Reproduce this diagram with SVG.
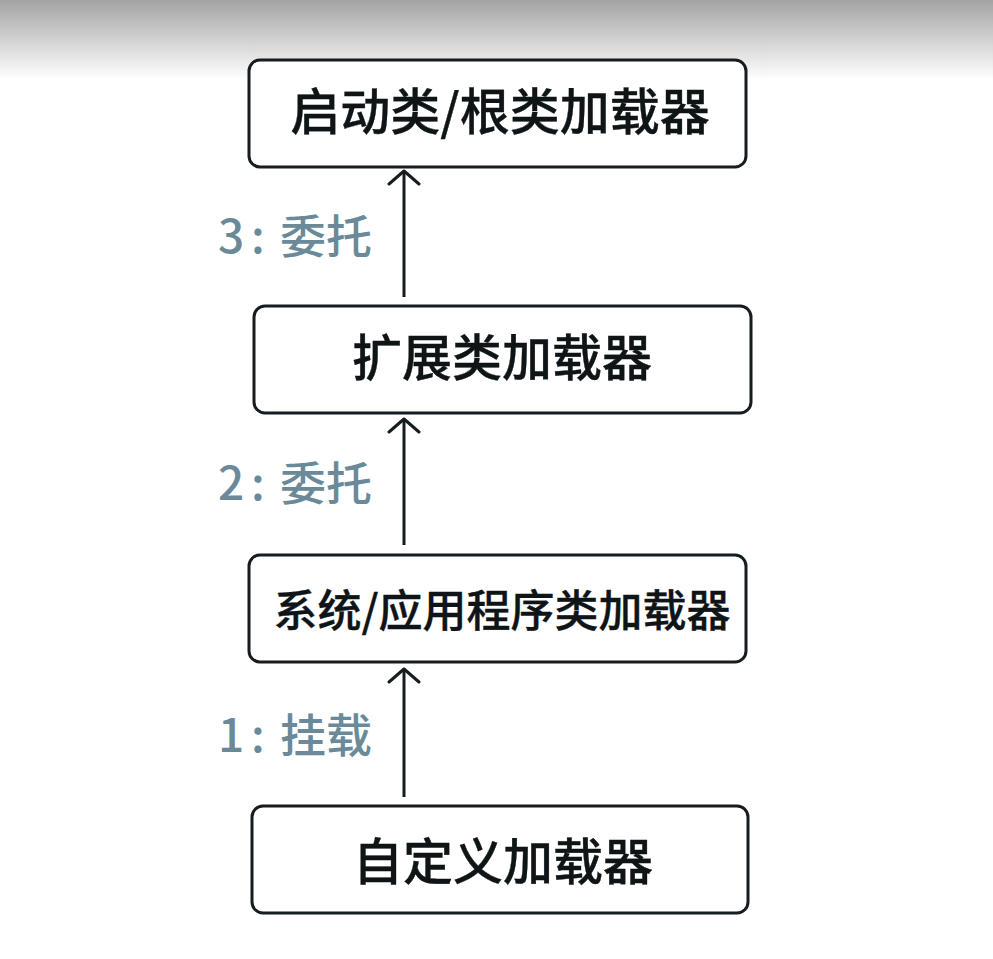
<svg xmlns="http://www.w3.org/2000/svg" width="993" height="959" viewBox="0 0 993 959">
<defs>
<linearGradient id="topShade" x1="0" y1="0" x2="0" y2="1">
<stop offset="0" stop-color="#a3a3a3"/>
<stop offset="0.5" stop-color="#d2d2d2"/>
<stop offset="1" stop-color="#ffffff"/>
</linearGradient>
<marker id="arrow" markerWidth="20" markerHeight="34" refX="16" refY="17" orient="auto" markerUnits="userSpaceOnUse" viewBox="0 0 20 34">
<path d="M3,2 L16,17 L3,32" fill="none" stroke="#161d21" stroke-width="3" stroke-linecap="round" stroke-linejoin="round"/>
</marker>
<style>
.box{fill:#ffffff;stroke:#161d21;stroke-width:3}
.nt{font-family:"Noto Sans CJK SC","Noto Sans",sans-serif;font-weight:500;fill:#0f1417;stroke:#0f1417;stroke-width:0.35px}
.lb{font-family:"Noto Sans CJK SC","Noto Sans",sans-serif;font-weight:500;font-size:46px;fill:#6b8a99}
.edge{stroke:#161d21;stroke-width:3;fill:none}
</style>
</defs>
<rect x="0" y="0" width="993" height="959" fill="#ffffff"/>
<rect x="0" y="0" width="993" height="80" fill="url(#topShade)"/>
<g id="connectors">
<line class="edge" x1="404" y1="297" x2="404" y2="171" marker-end="url(#arrow)"/>
<line class="edge" x1="404" y1="545" x2="404" y2="419" marker-end="url(#arrow)"/>
<line class="edge" x1="404" y1="797" x2="404" y2="669" marker-end="url(#arrow)"/>
<text class="lb" y="253"><tspan x="218">3</tspan><tspan x="251">: </tspan><tspan x="280">委托</tspan></text>
<text class="lb" y="500"><tspan x="218">2</tspan><tspan x="251">: </tspan><tspan x="280">委托</tspan></text>
<text class="lb" y="752"><tspan x="218">1</tspan><tspan x="251">: </tspan><tspan x="280">挂载</tspan></text>
</g>
<g id="node-bootstrap">
<rect class="box" x="249" y="60" width="497" height="107" rx="11"/>
<text class="nt" x="500" y="130" font-size="50" text-anchor="middle">启动类/根类加载器</text>
</g>
<g id="node-extension">
<rect class="box" x="254" y="306" width="497" height="107" rx="11"/>
<text class="nt" x="502" y="376" font-size="50" text-anchor="middle">扩展类加载器</text>
</g>
<g id="node-system">
<rect class="box" x="249" y="555" width="497" height="107" rx="11"/>
<text class="nt" x="502" y="627" font-size="44" text-anchor="middle">系统/应用程序类加载器</text>
</g>
<g id="node-custom">
<rect class="box" x="252" y="806" width="496" height="107" rx="11"/>
<text class="nt" x="503" y="880" font-size="50" text-anchor="middle">自定义加载器</text>
</g>
</svg>
